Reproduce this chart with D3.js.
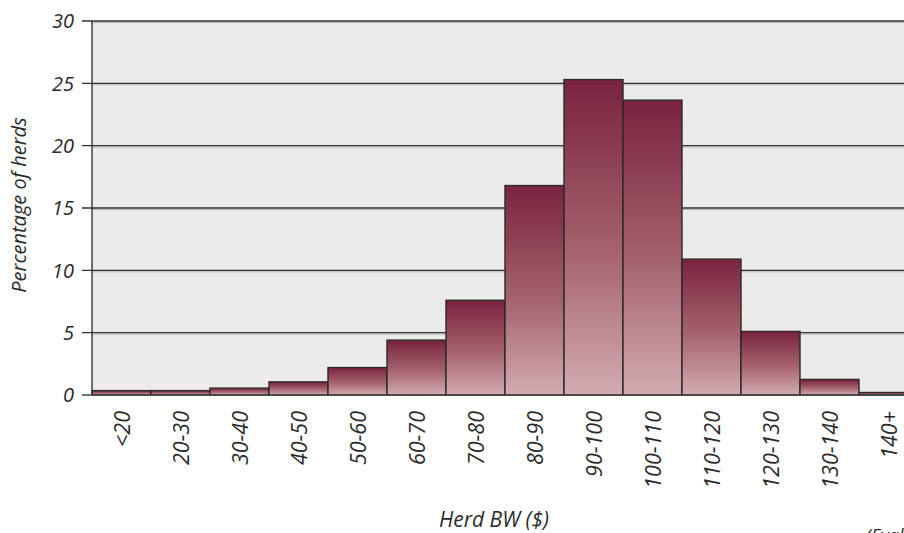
<!DOCTYPE html>
<html>
<head>
<meta charset="utf-8">
<script src="https://cdn.jsdelivr.net/npm/d3@7/dist/d3.min.js"></script>
<style>
  html, body { margin: 0; padding: 0; background: #fff; }
  svg { display: block; }
  text { font-family: "Open Sans", "DejaVu Sans", sans-serif; font-style: italic; font-weight: 400; fill: #2a2a2a; }
</style>
</head>
<body>
<svg id="chart" width="904" height="533"></svg>
<script>
// Distribution of herds by Herd BW ($)
const categories = ["<20", "20-30", "30-40", "40-50", "50-60", "60-70", "70-80",
                    "80-90", "90-100", "100-110", "110-120", "120-130", "130-140", "140+"];
const percentages = [0.35, 0.35, 0.55, 1.05, 2.2, 4.4, 7.6,
                     16.8, 25.3, 23.65, 10.9, 5.1, 1.25, 0.2];
const yTicks = [0, 5, 10, 15, 20, 25, 30];

const svg = d3.select("#chart");
const plot = { left: 92, right: 918, top: 21, bottom: 395 };

const x = d3.scaleBand().domain(categories).range([plot.left, plot.right]).padding(0);
const y = d3.scaleLinear().domain([0, 30]).range([plot.bottom, plot.top]);

// Vertical gradient used by every bar
const defs = svg.append("defs");
const grad = defs.append("linearGradient")
  .attr("id", "barFill").attr("x1", 0).attr("y1", 0).attr("x2", 0).attr("y2", 1);
grad.append("stop").attr("offset", "0%").attr("stop-color", "#7a233e");
grad.append("stop").attr("offset", "55%").attr("stop-color", "#a5636f");
grad.append("stop").attr("offset", "100%").attr("stop-color", "#d3abb2");

// Plot background
svg.append("rect")
  .attr("x", plot.left).attr("y", plot.top)
  .attr("width", plot.right - plot.left).attr("height", plot.bottom - plot.top)
  .attr("fill", "#ebebeb");

// Horizontal gridlines with a soft shadow line below
const gridTicks = yTicks.filter(d => d > 0);
svg.append("g").selectAll("line.shadow").data(gridTicks).join("line")
  .attr("x1", plot.left).attr("x2", plot.right)
  .attr("y1", d => y(d) + 1.5).attr("y2", d => y(d) + 1.5)
  .attr("stroke", "#b5b5b5").attr("stroke-width", 1);
svg.append("g").selectAll("line.grid").data(gridTicks).join("line")
  .attr("x1", plot.left - 10).attr("x2", plot.right)
  .attr("y1", d => y(d)).attr("y2", d => y(d))
  .attr("stroke", "#333").attr("stroke-width", 1.4);

// Bars
svg.append("g").selectAll("rect.bar").data(categories).join("rect")
  .attr("x", d => x(d))
  .attr("y", (d, i) => y(percentages[i]))
  .attr("width", x.bandwidth())
  .attr("height", (d, i) => y(0) - y(percentages[i]))
  .attr("fill", "url(#barFill)")
  .attr("stroke", "#2a2a2a").attr("stroke-width", 1.4);

// Y axis line
svg.append("line")
  .attr("x1", plot.left).attr("x2", plot.left)
  .attr("y1", plot.top).attr("y2", plot.bottom)
  .attr("stroke", "#333").attr("stroke-width", 1.4);

// Baseline
svg.append("line")
  .attr("x1", plot.left - 10).attr("x2", plot.right)
  .attr("y1", plot.bottom).attr("y2", plot.bottom)
  .attr("stroke", "#444").attr("stroke-width", 1.6);

// Y tick labels
svg.append("g").selectAll("text").data(yTicks).join("text")
  .attr("x", 74).attr("y", d => y(d))
  .attr("dy", "0.36em")
  .attr("text-anchor", "end")
  .style("font-size", "20px")
  .text(d => d);

// X category labels, rotated
svg.append("g").selectAll("text").data(categories).join("text")
  .attr("transform", d => `translate(${x(d) + x.bandwidth() / 2 + 1},${411}) rotate(-90)`)
  .attr("text-anchor", "end")
  .attr("dy", "0.36em")
  .style("font-size", "21.5px")
  .text(d => d);

// Axis titles
svg.append("text")
  .attr("transform", `translate(26,${(plot.top + plot.bottom) / 2 - 3}) rotate(-90)`)
  .attr("text-anchor", "middle")
  .style("font-size", "20px")
  .text("Percentage of herds");

svg.append("text")
  .attr("x", 494).attr("y", 527)
  .attr("text-anchor", "middle")
  .style("font-size", "21px")
  .text("Herd BW ($)");

svg.append("text")
  .attr("x", 866).attr("y", 542)
  .style("font-size", "18px")
  .text("(Evaluation)");
</script>
</body>
</html>
